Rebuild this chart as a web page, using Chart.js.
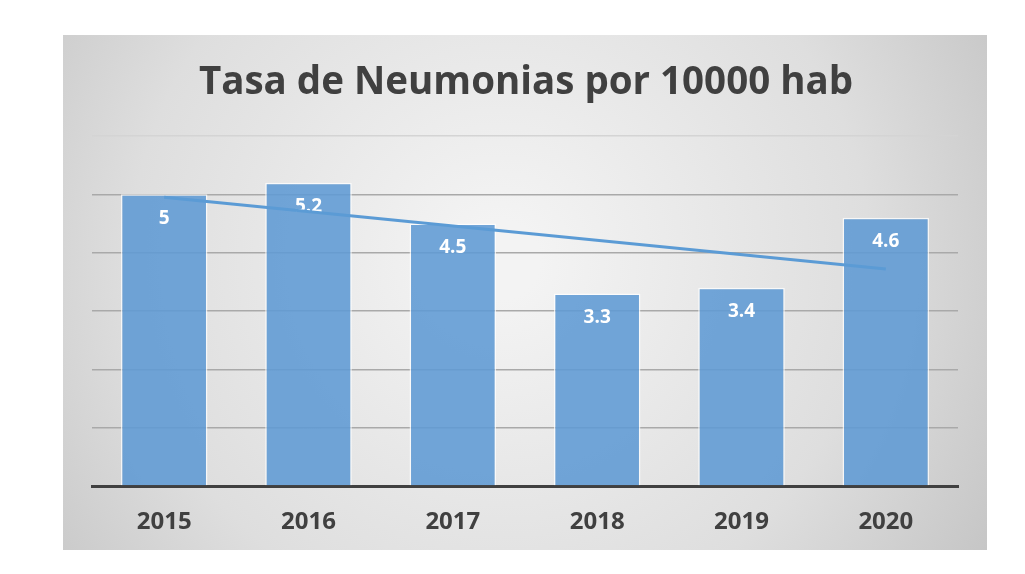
<!DOCTYPE html>
<html>
<head>
<meta charset="utf-8">
<script src="https://cdn.jsdelivr.net/npm/chart.js@4"></script>
<style>
  html, body { margin: 0; padding: 0; background: #fff; }
  #wrap { width: 1025px; height: 574px; }
</style>
</head>
<body>
<div id="wrap"><canvas id="neumonias"></canvas></div>
<script>
const anios = ["2015", "2016", "2017", "2018", "2019", "2020"];
const tasas = [5, 5.2, 4.5, 3.3, 3.4, 4.6];
// linea de tendencia (solo extremos)
const tendencia = [4.95, null, null, null, null, 3.72];
const titulo = "Tasa de Neumonias por 10000 hab";

const plugin_fondo = {
  id: "fondo",
  beforeDraw: (chart) => {
    const c = chart.ctx;
    c.save();
    c.fillStyle = "#ffffff";
    c.fillRect(0, 0, chart.width, chart.height);
    const g = c.createRadialGradient(500, 260, 40, 500, 260, 640);
    g.addColorStop(0, "#f3f3f3");
    g.addColorStop(0.55, "#dedede");
    g.addColorStop(1, "#bdbdbd");
    c.fillStyle = g;
    c.fillRect(63, 35, 924, 515);
    c.fillStyle = "#404040";
    c.font = "bold 38.5px 'Open Sans'";
    c.textAlign = "center";
    c.textBaseline = "middle";
    c.fillText(titulo, 526, 83);
    c.restore();
  },
};

// etiquetas dibujadas justo despues de las barras, antes de la tendencia
const plugin_etiquetas = {
  id: "etiquetas",
  afterDatasetDraw: (chart, args) => {
    if (args.index !== 1) return;
    const c = chart.ctx;
    c.save();
    c.fillStyle = "#ffffff";
    c.font = "bold 19px 'Open Sans'";
    c.textAlign = "center";
    c.textBaseline = "middle";
    args.meta.data.forEach((bar, i) => {
      c.fillText(String(tasas[i]), bar.x, bar.y + 24);
    });
    c.restore();
  },
};

const ctx = document.getElementById("neumonias").getContext("2d");
new Chart(ctx, {
  data: {
    labels: anios,
    datasets: [
      {
        type: "line",
        label: "Tendencia",
        data: tendencia,
        spanGaps: true,
        borderColor: "#5b9bd5",
        borderWidth: 3,
        pointRadius: 0,
        order: 0,
      },
      {
        type: "bar",
        label: "Tasa",
        data: tasas,
        backgroundColor: "rgba(94,154,212,0.88)",
        borderColor: "rgba(255,255,255,0.75)",
        borderWidth: 1.5,
        categoryPercentage: 1,
        barPercentage: 0.6,
        order: 1,
      },
    ],
  },
  options: {
    responsive: true,
    maintainAspectRatio: false,
    animation: false,
    layout: { padding: { left: 92, right: 67, top: 136, bottom: 0 } },
    scales: {
      x: {
        grid: { display: false },
        border: { color: "#404040", width: 3 },
        ticks: {
          color: "#404040",
          font: { family: "'Open Sans'", size: 24, weight: "bold" },
          padding: 14,
        },
        afterFit: (s) => { s.height = 88; },
      },
      y: {
        min: 0,
        max: 6,
        ticks: { display: false, stepSize: 1 },
        border: { display: false },
        grid: {
          color: (c) => (c.tick.value === 6 ? "#d4d4d4" : "#a9a9a9"),
          lineWidth: 1.5,
          drawTicks: false,
        },
        afterFit: (s) => { s.width = 0; },
      },
    },
    plugins: {
      legend: { display: false },
      title: { display: false },
      tooltip: { enabled: false },
    },
  },
  plugins: [plugin_fondo, plugin_etiquetas],
});
</script>
</body>
</html>
